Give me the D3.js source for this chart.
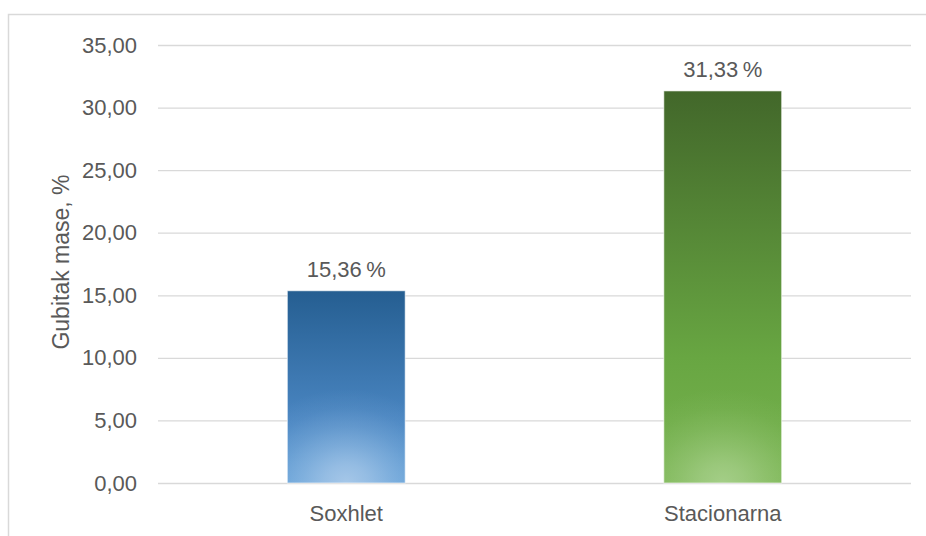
<!DOCTYPE html>
<html>
<head>
<meta charset="utf-8">
<script src="https://cdn.jsdelivr.net/npm/d3@7"></script>
<style>
  body { margin: 0; background: #fff; }
  text { font-family: "Liberation Sans", Arial, sans-serif; fill: #595959; }
</style>
</head>
<body>
<svg id="chart" width="926" height="536"></svg>
<script>
// values
const categories = ["Soxhlet", "Stacionarna"];
const values = [15.36, 31.33];
const yTicks = [0, 5, 10, 15, 20, 25, 30, 35];

const svg = d3.select("#chart");
const W = 926, H = 536;
const m = { left: 158, right: 15, top: 45, bottom: 53 };

// outer chart frame
svg.append("rect")
  .attr("x", 8.5).attr("y", 14.5)
  .attr("width", W + 10).attr("height", H + 10)
  .attr("fill", "#fff").attr("stroke", "#d9d9d9").attr("stroke-width", 1.5);

const x = d3.scaleBand()
  .domain(categories)
  .range([m.left, W - m.right])
  .paddingInner(0.687)
  .paddingOuter(0.687 / 2);

const y = d3.scaleLinear()
  .domain([0, 35])
  .range([H - m.bottom, m.top]);

// gradients
const defs = svg.append("defs");
const fills = [
  { id: "blue", top: "#255e91", mid: "#4a86c2", bot: "#5b9bd5", glow: "#a9c9e9" },
  { id: "green", top: "#42672a", mid: "#68a642", bot: "#78b450", glow: "#a6cf8a" }
];
const glowStops = [[0, 0.95], [0.2, 0.75], [0.4, 0.48], [0.6, 0.25], [0.8, 0.08], [1, 0]];
fills.forEach((f, i) => {
  const lg = defs.append("linearGradient").attr("id", "lg-" + f.id)
    .attr("x1", 0).attr("y1", 0).attr("x2", 0).attr("y2", 1);
  lg.append("stop").attr("offset", "0%").attr("stop-color", f.top);
  lg.append("stop").attr("offset", "68%").attr("stop-color", f.mid);
  lg.append("stop").attr("offset", "100%").attr("stop-color", f.bot);

  const cx = x(categories[i]) + x.bandwidth() / 2;
  const cy = y(0);
  const rg = defs.append("radialGradient").attr("id", "rg-" + f.id)
    .attr("gradientUnits", "userSpaceOnUse")
    .attr("cx", cx).attr("cy", cy).attr("r", x.bandwidth() * 0.8)
    .attr("gradientTransform", `translate(${cx},${cy}) scale(1.15,1) translate(${-cx},${-cy})`);
  glowStops.forEach(s => rg.append("stop")
    .attr("offset", s[0]).attr("stop-color", f.glow).attr("stop-opacity", s[1]));
});

// gridlines
const yAxis = d3.axisLeft(y)
  .tickValues(yTicks)
  .tickSize(-(W - m.right - m.left))
  .tickPadding(21)
  .tickFormat(d => d3.format(".2f")(d).replace(".", ","));

const gy = svg.append("g")
  .attr("transform", `translate(${m.left},0)`)
  .call(yAxis);
gy.select(".domain").remove();
gy.selectAll(".tick line").attr("stroke", "#d9d9d9").attr("stroke-width", 1.3);
gy.selectAll(".tick text").attr("font-size", 22).attr("fill", "#595959");

// bars
const bars = svg.append("g").selectAll("g")
  .data(categories)
  .join("g");

bars.append("rect")
  .attr("x", d => x(d))
  .attr("y", (d, i) => y(values[i]))
  .attr("width", x.bandwidth())
  .attr("height", (d, i) => y(0) - y(values[i]))
  .attr("fill", (d, i) => `url(#lg-${fills[i].id})`);

bars.append("rect")
  .attr("x", d => x(d))
  .attr("y", (d, i) => y(values[i]))
  .attr("width", x.bandwidth())
  .attr("height", (d, i) => y(0) - y(values[i]))
  .attr("fill", (d, i) => `url(#rg-${fills[i].id})`)
  .attr("stroke", "#ffffff").attr("stroke-opacity", 0.6).attr("stroke-width", 1);

// value labels
bars.append("text")
  .attr("x", d => x(d) + x.bandwidth() / 2)
  .attr("y", (d, i) => y(values[i]) - 14)
  .attr("text-anchor", "middle")
  .attr("font-size", 22)
  .text((d, i) => d3.format(".2f")(values[i]).replace(".", ",") + "\u2009%");

// category axis
const gx = svg.append("g")
  .attr("transform", `translate(0,${y(0)})`)
  .call(d3.axisBottom(x).tickSize(0).tickPadding(22));
gx.select(".domain").remove();
gx.selectAll(".tick text").attr("font-size", 22).attr("fill", "#595959");

// y axis title
svg.append("text")
  .attr("transform", `translate(69,262) rotate(-90)`)
  .attr("text-anchor", "middle")
  .attr("font-size", 23)
  .text("Gubitak mase, %");
</script>
</body>
</html>
